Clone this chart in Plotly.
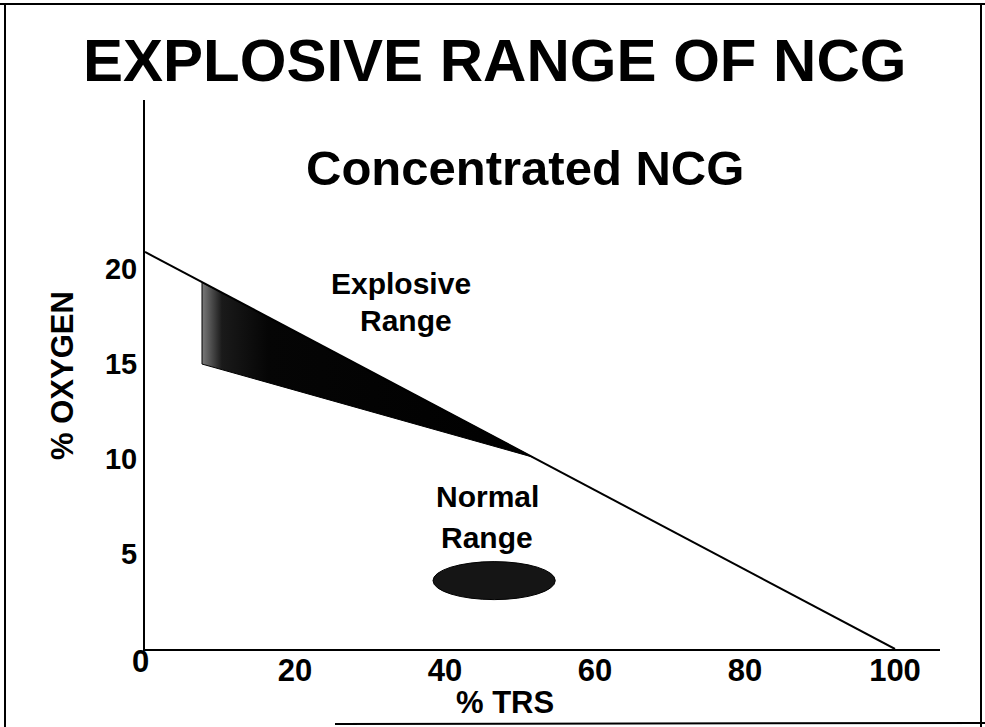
import plotly.graph_objects as go

# ---- data ----
x_tick_vals = [20, 40, 60, 80, 100]
x_tick_text = ["20", "40", "60", "80", "100"]
y_tick_vals = [5, 10, 15, 20]
y_tick_text = ["5", "10", "15", "20"]

# flammability boundary line: % TRS vs % O2 (air 20.9 % O2 -> pure TRS 0 % O2)
boundary_trs = [0, 100]
boundary_o2 = [20.9, 0]

# explosive range polygon (upper edge lies on the boundary line)
explosive_trs = [7.6, 7.6, 51.7, 7.6]
explosive_o2 = [19.3, 15.0, 10.1, 19.3]

# normal operating range (ellipse extents)
normal_trs = [38.4, 54.7]
normal_o2 = [2.6, 4.6]

X_RANGE = [0, 106]
Y_RANGE = [0, 28.9]

W, H = 985, 727
PLOT_L, PLOT_R, PLOT_T, PLOT_B = 145, 940, 100, 649

SANS = "Liberation Sans, Arial, Helvetica, sans-serif"

def px(x):
    return x / W

def py(y):
    return 1 - y / H

def fbold(size):
    return dict(family=SANS, size=size, color="black", weight="bold")

fig = go.Figure()

fig.add_trace(go.Scatter(
    x=explosive_trs, y=explosive_o2, mode="lines",
    line=dict(color="black", width=1),
    fill="toself",
    fillgradient=dict(type="horizontal",
                      colorscale=[[0, "#7a7a7a"], [0.06, "#1a1a1a"], [0.2, "#050505"], [1, "#000000"]]),
    hoverinfo="skip", showlegend=False,
))

fig.add_trace(go.Scatter(
    x=boundary_trs, y=boundary_o2, mode="lines",
    line=dict(color="black", width=2),
    hoverinfo="skip", showlegend=False,
))

fig.add_shape(type="circle", xref="x", yref="y",
              x0=normal_trs[0], x1=normal_trs[1], y0=normal_o2[0], y1=normal_o2[1],
              fillcolor="#151515", line=dict(color="black", width=1))

annotations = [
    dict(text="EXPLOSIVE RANGE OF NCG", x=px(494), y=py(61), font=fbold(60)),
    dict(text="Concentrated NCG", x=px(525), y=py(168), font=fbold(49)),
    dict(text="Explosive", x=px(401), y=py(283), font=fbold(30)),
    dict(text="Range", x=px(406), y=py(321), font=fbold(30)),
    dict(text="Normal", x=px(487), y=py(497), font=fbold(30)),
    dict(text="Range", x=px(487), y=py(537), font=fbold(30)),
    dict(text="% OXYGEN", x=px(62), y=py(376), textangle=-90, font=fbold(31)),
    dict(text="% TRS", x=px(505), y=py(702), font=fbold(31)),
    dict(text="0", x=px(140), y=py(661), font=fbold(31)),
]
for a in annotations:
    a.update(xref="paper", yref="paper", showarrow=False, xanchor="center", yanchor="middle")

# slide frame (scanned border)
frame = [
    (5, 4, 5, 727),
    (0, 4, 985, 4),
    (981, 4, 981, 727),
    (335, 724, 985, 723),
]
for x0, y0, x1, y1 in frame:
    fig.add_shape(type="line", xref="paper", yref="paper",
                  x0=px(x0), y0=py(y0), x1=px(x1), y1=py(y1),
                  line=dict(color="black", width=2))

fig.update_layout(
    width=W, height=H,
    margin=dict(l=0, r=0, t=0, b=0),
    paper_bgcolor="white", plot_bgcolor="white",
    annotations=annotations,
    showlegend=False,
    xaxis=dict(domain=[PLOT_L / W, PLOT_R / W], range=X_RANGE,
               tickvals=x_tick_vals, ticktext=x_tick_text,
               showgrid=False, zeroline=False, showline=True, linecolor="black", linewidth=2,
               ticks="", ticklabelstandoff=-7,
               tickfont=fbold(31),
               fixedrange=True),
    yaxis=dict(domain=[1 - PLOT_B / H, 1 - PLOT_T / H], range=Y_RANGE,
               tickvals=y_tick_vals, ticktext=y_tick_text,
               showgrid=False, zeroline=False, showline=True, linecolor="black", linewidth=2,
               ticks="", tickfont=fbold(29),
               fixedrange=True),
)

fig.write_html(
    "out.html",
    config={"displayModeBar": False},
    post_script="document.body.style.margin='0';document.body.style.overflow='hidden';",
)
